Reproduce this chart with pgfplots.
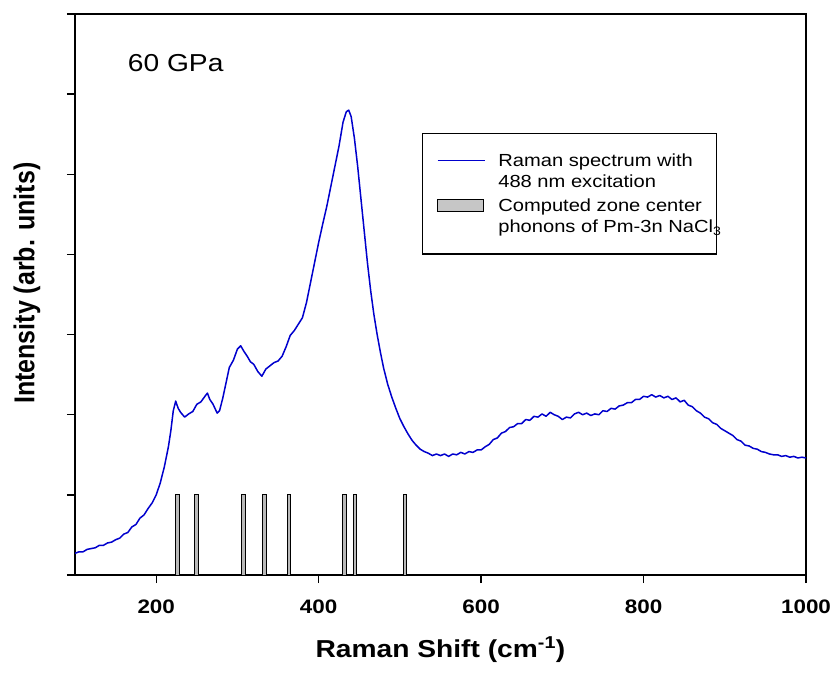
\documentclass[border=0pt]{standalone}
\usepackage{fontspec}
\setmainfont{Liberation Sans}[FakeStretch=1.15]
\newfontfamily\plainsans{Liberation Sans}
\usepackage{graphicx}
\usepackage{pgfplots}
\pgfplotsset{compat=1.18}
\definecolor{specblue}{RGB}{0,0,205}
\pgfplotsset{
 lineleg/.style={legend image code/.code={\draw[##1] (2pt,10.5pt) -- (49pt,10.5pt); \path (0pt,-10.5pt) (60pt,0pt);}},
 boxleg/.style={legend image code/.code={\draw[##1, fill=gray!45] (2pt,4.5pt) rectangle (48pt,16.5pt); \path (0pt,-16.5pt) (60pt,0pt);}},
}
\begin{document}
\begin{tikzpicture}
\begin{axis}[name=ax,
 scale only axis, width=731pt, height=561pt,
 xmin=100, xmax=1000, ymin=0, ymax=7,
 xtick={200,400,...,1000}, ytick={0,1,...,7}, yticklabels={},
 tick align=outside, tick pos=left, major tick length=8pt,
 axis line style={line width=1.3pt},
 every tick/.style={line width=1.3pt, black},
 /pgf/number format/1000 sep={},
 /pgf/number format/assume math mode=true,
 xticklabel style={font=\fontsize{19.5}{20}\selectfont\bfseries, anchor=center, yshift=-24pt},
 xlabel={Raman Shift (cm\textsuperscript{-1})},
 xlabel style={font=\fontsize{24.5}{26}\selectfont\bfseries, at={(axis description cs:0.5,-0.1337)}, anchor=center},
 ylabel={\scalebox{1}[1.15]{\plainsans\fontsize{25}{26}\selectfont\bfseries Intensity (arb. units)}},
 ylabel style={at={(axis description cs:-0.0657,0.52)}, anchor=center},
 legend style={at={(0.475,0.7879)}, anchor=north west, draw=black, line width=1.2pt,
   font=\fontsize{17.5}{21}\selectfont, cells={align=left, anchor=west, inner xsep=0pt},
   inner xsep=12pt, inner ysep=18pt, row sep=6pt},
]
\addplot[specblue, line width=1.5pt, line join=round, lineleg] coordinates {
(100,0.27)(105,0.29)(110,0.29)(115,0.32)(120,0.33)(125,0.34)(130,0.37)(135,0.37)(140,0.40)(145,0.41)
(150,0.44)(155,0.46)(160,0.51)(165,0.53)(170,0.60)(175,0.63)(180,0.71)(185,0.75)(190,0.83)(195,0.90)
(200,1.00)(205,1.15)(210,1.35)(215,1.60)(218,1.80)(221,2.05)(224,2.17)(227,2.08)(230,2.03)(235,1.97)
(240,2.01)(245,2.04)(250,2.13)(255,2.16)(260,2.23)(263,2.27)(266,2.19)(270,2.13)(275,2.02)(278,2.05)
(282,2.21)(286,2.40)(290,2.59)(295,2.68)(300,2.82)(304,2.86)(308,2.79)(312,2.73)(316,2.66)(320,2.63)
(325,2.54)(330,2.48)(335,2.57)(340,2.61)(345,2.65)(350,2.67)(355,2.73)(360,2.85)(365,2.99)(370,3.05)
(375,3.13)(380,3.21)(385,3.40)(390,3.65)(395,3.90)(400,4.15)(405,4.38)(410,4.60)(415,4.85)(420,5.10)
(425,5.35)(430,5.65)(434,5.78)(437,5.80)(440,5.72)(444,5.45)(448,5.10)(452,4.70)(456,4.30)(460,3.90)
(464,3.55)(468,3.25)(472,3.00)(476,2.78)(480,2.58)(485,2.38)(490,2.22)(495,2.08)(500,1.95)(505,1.85)
(510,1.76)(515,1.68)(520,1.62)(525,1.57)(530,1.54)(535,1.52)(540,1.49)(545,1.51)(550,1.49)(555,1.51)
(560,1.48)(565,1.51)(570,1.50)(575,1.53)(580,1.51)(585,1.54)(590,1.53)(595,1.56)(600,1.56)(605,1.60)
(610,1.63)(615,1.69)(620,1.71)(625,1.77)(630,1.79)(635,1.84)(640,1.85)(645,1.89)(650,1.89)(655,1.94)
(660,1.93)(665,1.98)(670,1.97)(675,2.01)(680,1.98)(685,2.03)(690,2.00)(695,1.98)(700,1.94)(705,1.97)
(710,1.96)(715,2.01)(720,2.03)(725,2.00)(730,2.02)(735,1.99)(740,2.01)(745,2.00)(750,2.05)(755,2.04)
(760,2.08)(765,2.07)(770,2.11)(775,2.12)(780,2.15)(785,2.15)(790,2.19)(795,2.19)(800,2.23)(805,2.22)
(810,2.25)(815,2.22)(820,2.24)(825,2.21)(830,2.23)(835,2.19)(840,2.21)(845,2.16)(850,2.18)(855,2.12)
(860,2.10)(865,2.05)(870,2.02)(875,1.97)(880,1.95)(885,1.90)(890,1.88)(895,1.83)(900,1.80)(905,1.77)
(910,1.74)(915,1.69)(920,1.67)(925,1.62)(930,1.61)(935,1.58)(940,1.57)(945,1.54)(950,1.53)(955,1.51)
(960,1.50)(965,1.50)(970,1.48)(975,1.49)(980,1.47)(985,1.48)(990,1.46)(995,1.47)(1000,1.46)
};
\addlegendentry{Raman spectrum with\\488 nm excitation}
\addplot[ybar, bar width=4.5, fill=gray!55, draw=black, line width=1pt, boxleg] coordinates {
(226.4,1)(249.8,1)(307.2,1)(333,1)(363.5,1)(431.6,1)(444.7,1)(506.3,1)
};
\addlegendentry{Computed zone center\\phonons of Pm-3n NaCl\textsubscript{3}\hspace*{-19pt}}
\node[font=\fontsize{24.5}{26}\selectfont, anchor=center] at (axis cs:224,6.39) {60 GPa};
\end{axis}
\pgfresetboundingbox
\path ([xshift=-75pt,yshift=14pt]ax.north west) rectangle ([xshift=31pt,yshift=-104pt]ax.south east);
\end{tikzpicture}
\end{document}
